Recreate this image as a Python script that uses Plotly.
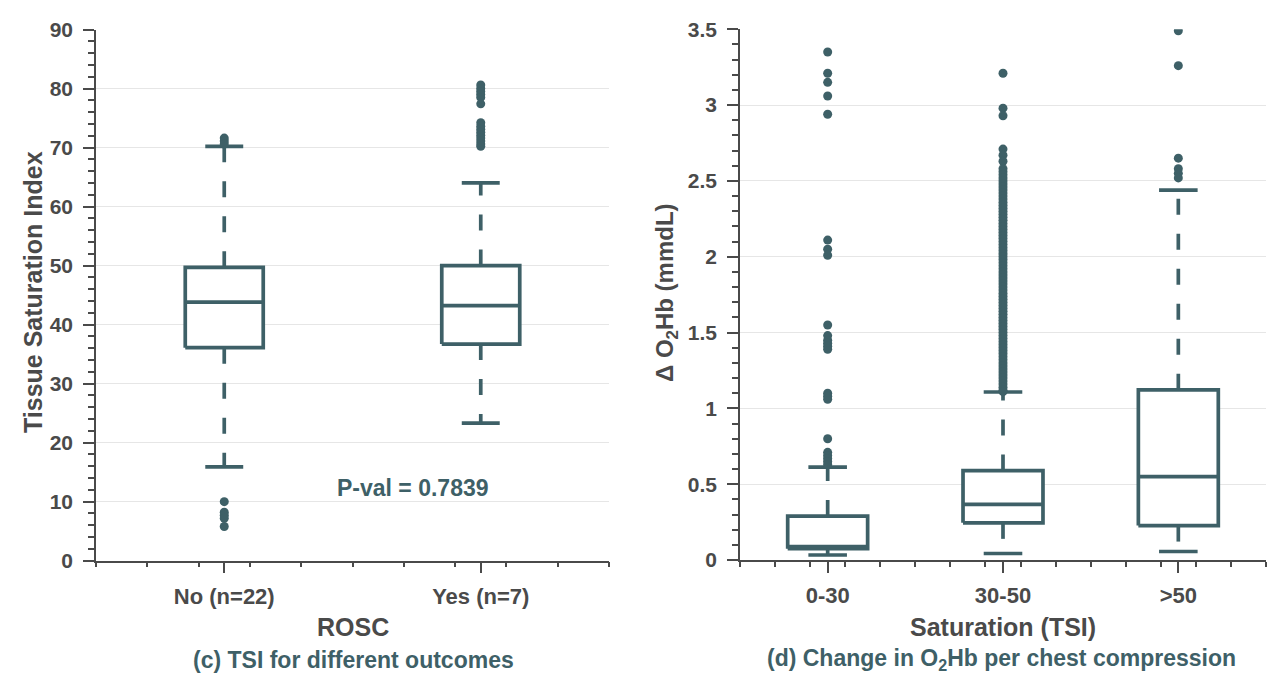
import plotly.graph_objects as go

# ---------------- data ----------------
# (c) TSI for different outcomes
rosc_labels = ["No (n=22)", "Yes (n=7)"]
rosc_q1 = [36.1, 36.7]
rosc_median = [43.8, 43.2]
rosc_q3 = [49.7, 50.0]
rosc_lower = [15.9, 23.3]
rosc_upper = [70.2, 64.0]
rosc_out_no = [71.6, 71.1, 70.6, 10.0, 8.2, 7.7, 7.2, 5.8]
rosc_out_yes = [80.6, 80.0, 79.5, 79.0, 78.5, 77.4, 74.2, 73.6, 73.1, 72.6, 72.1, 71.6, 71.1, 70.6, 70.2]
p_value_text = "P-val = 0.7839"

# (d) Change in O2Hb per chest compression
sat_labels = ["0-30", "30-50", ">50"]
sat_q1 = [0.075, 0.245, 0.227]
sat_median = [0.088, 0.367, 0.550]
sat_q3 = [0.290, 0.590, 1.122]
sat_lower = [0.033, 0.043, 0.056]
sat_upper = [0.612, 1.108, 2.440]
sat_out_0_30 = [3.35, 3.21, 3.15, 3.06, 2.94, 2.11, 2.05, 2.01, 1.55, 1.48, 1.45,
                1.43, 1.41, 1.39, 1.10, 1.08, 1.06, 0.80, 0.71, 0.69, 0.67, 0.65, 0.63]
sat_out_30_50 = [3.21, 2.98, 2.93, 2.71, 2.67, 2.63, 2.58, 2.56, 2.54, 2.52, 2.50,
                 2.48, 2.46, 2.44, 2.42, 2.40, 2.38, 2.36, 2.34, 2.32, 2.30, 2.28,
                 2.26, 2.24, 2.22, 2.20, 2.18, 2.16, 2.14, 2.12, 2.10, 2.08, 2.06,
                 2.04, 2.02, 2.00, 1.98, 1.96, 1.94, 1.92, 1.90, 1.88, 1.86, 1.84,
                 1.82, 1.80, 1.78, 1.76, 1.74, 1.72, 1.70, 1.68, 1.66, 1.64, 1.62,
                 1.60, 1.58, 1.56, 1.54, 1.52, 1.50, 1.48, 1.46, 1.44, 1.42, 1.40,
                 1.38, 1.36, 1.34, 1.32, 1.30, 1.28, 1.26, 1.24, 1.22, 1.20, 1.18,
                 1.16, 1.14, 1.12, 1.11]
sat_out_gt50 = [3.49, 3.26, 2.65, 2.58, 2.55, 2.52]

# ---------------- style ----------------
TEAL = "#3e6067"
GRAY = "#4a4a4a"
FONT = "Liberation Sans, Arial, Helvetica, sans-serif"
LW = 3.7
DASH = "16px,19px"

# page body has an 8px margin: figure is placed at (8, 8) in the window
OFF = 8
W, H = 1286 - OFF, 674 - OFF


def fx(px):
    return (px - OFF) / W


def fy(py):
    return 1 - (py - OFF) / H


fig = go.Figure()


def add_boxes(xref, yref, q1, med, q3, lo, hi, half_w, cap_w):
    for i in range(len(q1)):
        c = i + 1
        fig.add_trace(go.Scatter(x=[c, c], y=[q3[i], hi[i]], mode="lines",
                                 line=dict(color=TEAL, width=LW, dash=DASH),
                                 xaxis=xref, yaxis=yref, showlegend=False, hoverinfo="skip"))
        fig.add_trace(go.Scatter(x=[c, c], y=[q1[i], lo[i]], mode="lines",
                                 line=dict(color=TEAL, width=LW, dash=DASH),
                                 xaxis=xref, yaxis=yref, showlegend=False, hoverinfo="skip"))
        for v in (hi[i], lo[i]):
            fig.add_trace(go.Scatter(x=[c - cap_w, c + cap_w], y=[v, v], mode="lines",
                                     line=dict(color=TEAL, width=LW),
                                     xaxis=xref, yaxis=yref, showlegend=False, hoverinfo="skip"))
        fig.add_trace(go.Scatter(x=[c - half_w, c + half_w, c + half_w, c - half_w, c - half_w],
                                 y=[q1[i], q1[i], q3[i], q3[i], q1[i]], mode="lines",
                                 fill="toself", fillcolor="white",
                                 line=dict(color=TEAL, width=LW),
                                 xaxis=xref, yaxis=yref, showlegend=False, hoverinfo="skip"))
        fig.add_trace(go.Scatter(x=[c - half_w, c + half_w], y=[med[i], med[i]], mode="lines",
                                 line=dict(color=TEAL, width=LW),
                                 xaxis=xref, yaxis=yref, showlegend=False, hoverinfo="skip"))


def add_outliers(xref, yref, c, vals):
    fig.add_trace(go.Scatter(x=[c] * len(vals), y=vals, mode="markers",
                             marker=dict(color=TEAL, size=9),
                             xaxis=xref, yaxis=yref, showlegend=False, hoverinfo="y"))


add_boxes("x", "y", rosc_q1, rosc_median, rosc_q3, rosc_lower, rosc_upper, 0.152, 0.074)
add_outliers("x", "y", 1, rosc_out_no)
add_outliers("x", "y", 2, rosc_out_yes)

add_boxes("x2", "y2", sat_q1, sat_median, sat_q3, sat_lower, sat_upper, 0.228, 0.11)
add_outliers("x2", "y2", 1, sat_out_0_30)
add_outliers("x2", "y2", 2, sat_out_30_50)
add_outliers("x2", "y2", 3, sat_out_gt50)

xtickfont = dict(family=FONT, size=22, color=GRAY)
ytickfont = dict(family=FONT, size=21, color=GRAY)
common_y = dict(showline=True, linecolor=GRAY, linewidth=1.5, ticks="outside", ticklen=11,
                tickwidth=1.5, tickcolor=GRAY, showgrid=True, gridcolor="#e6e6e6", gridwidth=1.2,
                zeroline=False, tickfont=ytickfont, ticklabelstandoff=6, automargin=False)
common_x = dict(showline=True, linecolor=GRAY, linewidth=1.5, ticks="outside", ticklen=11,
                tickwidth=1.5, tickcolor=GRAY, showgrid=False, zeroline=False, tickfont=xtickfont,
                ticklabelstandoff=4, automargin=False)

fig.update_layout(
    width=W, height=H, margin=dict(l=0, r=0, t=0, b=0, autoexpand=False),
    paper_bgcolor="white", plot_bgcolor="white",
    font=dict(family=FONT, color=GRAY),
    xaxis=dict(domain=[fx(96), fx(609)], range=[0.5, 2.5], tickvals=[1, 2],
               ticktext=["<b>%s</b>" % t for t in rosc_labels],
               minor=dict(dtick=0.2, tick0=0.5, ticks="outside", ticklen=5, tickwidth=1.5,
                          tickcolor=GRAY, showgrid=False),
               anchor="y", **common_x),
    yaxis=dict(domain=[fy(560.7), fy(29.5)], range=[0, 90], dtick=10,
               minor=dict(dtick=2, ticks="outside", ticklen=6, tickwidth=1.5, tickcolor=GRAY,
                          showgrid=False),
               tickprefix="<b>", ticksuffix="</b>",
               anchor="x", **common_y),
    xaxis2=dict(domain=[fx(740), fx(1266)], range=[0.5, 3.5], tickvals=[1, 2, 3],
                ticktext=["<b>%s</b>" % t for t in sat_labels],
                minor=dict(dtick=0.2, tick0=0.5, ticks="outside", ticklen=5, tickwidth=1.5,
                           tickcolor=GRAY, showgrid=False),
                anchor="y2", **common_x),
    yaxis2=dict(domain=[fy(560.0), fy(29.3)], range=[0, 3.5], dtick=0.5,
                minor=dict(dtick=0.1, ticks="outside", ticklen=6, tickwidth=1.5, tickcolor=GRAY,
                           showgrid=False),
                tickprefix="<b>", ticksuffix="</b>",
                anchor="x2", **common_y),
)


def pan(text, xp, yp, size, color, angle=0):
    fig.add_annotation(text=text, xref="paper", yref="paper", x=fx(xp), y=fy(yp),
                       xanchor="center", yanchor="middle", showarrow=False, textangle=angle,
                       font=dict(family=FONT, size=size, color=color))


pan("<b>Tissue Saturation Index</b>", 33, 292, 25, GRAY, -90)
pan("<b>ROSC</b>", 353, 627, 25, GRAY)
pan("<b>(c) TSI for different outcomes</b>", 353, 660, 23, TEAL)
pan("<b>Δ O<sub>2</sub>Hb (mmdL)</b>", 666, 293, 24, GRAY, -90)
pan("<b>Saturation (TSI)</b>", 1003, 627, 25, GRAY)
pan("<b>(d) Change in O<sub>2</sub>Hb per chest compression</b>", 1001, 659, 23, TEAL)

fig.add_annotation(text="<b>" + p_value_text + "</b>", xref="x", yref="y", x=1.735, y=12.4,
                   showarrow=False, xanchor="center", yanchor="middle",
                   font=dict(family=FONT, size=23, color=TEAL))

fig.write_html("out.html")
